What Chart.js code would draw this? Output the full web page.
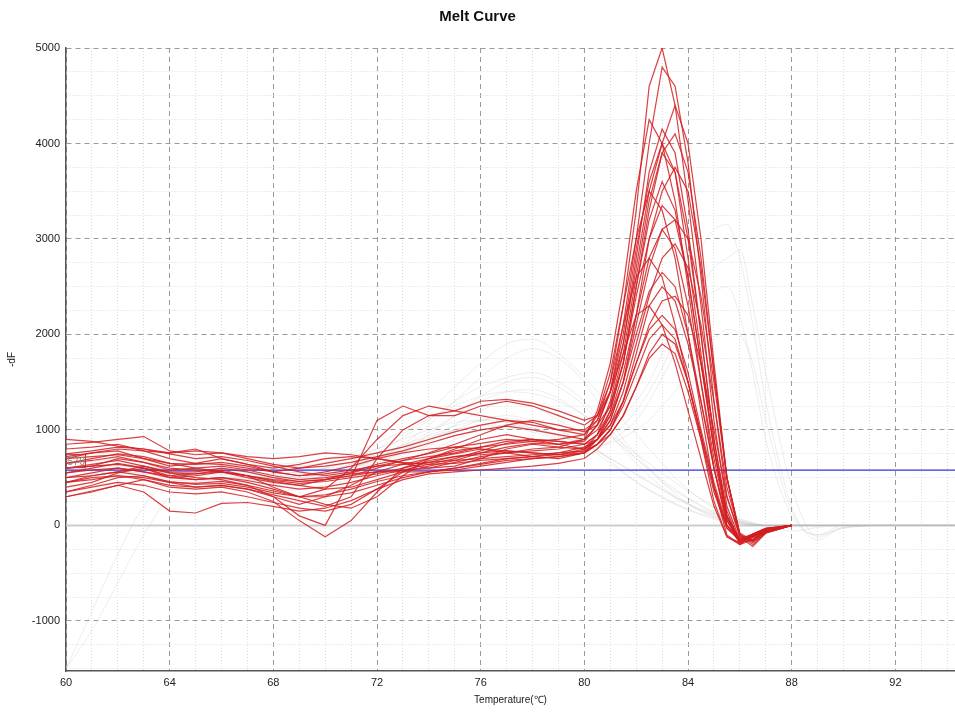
<!DOCTYPE html>
<html>
<head>
<meta charset="utf-8">
<script src="https://cdn.jsdelivr.net/npm/chart.js@4.4.1/dist/chart.umd.min.js"></script>
<style>
  html, body { margin: 0; padding: 0; background: #fff; }
  #wrap { width: 955px; height: 713px; }
</style>
</head>
<body>
<div id="wrap"><canvas id="melt" width="955" height="713"></canvas></div>
<script>
// temperature steps (°C) shared by every well
const temps = [60,61,62,63,64,65,66,67,68,69,70,71,72,73,74,75,76,77,78,79,80,
  80.5,81,81.5,82,82.5,83,83.5,84,84.5,85,85.5,86,86.5,87,88,89,90,92,94.3];

const threshold = 579;
const xTickLabels = [60,64,68,72,76,80,84,88,92];
const yTickLabels = [-1000,0,1000,2000,3000,4000,5000];

// wells with product (red), read up to 88 °C
const r01 = [720,760,800,780,700,650,640,600,560,600,650,700,760,820,900,980,1050,1100,1080,1000,950, 1100,1500,2300,3300,4600,5000,4400,3400,2300,1100,200,-150,-120,-50, 0];
const r02 = [900,880,830,800,750,700,720,680,620,560,520,560,640,700,750,820,860,900,880,850,880, 1050,1400,2100,3000,4000,4800,4600,3800,2600,1300,300,-100,-150,-60, 0];
const r03 = [600,620,700,660,580,600,560,520,400,300,380,600,900,1150,1250,1200,1150,1100,1050,1000,1000, 1100,1400,1900,2700,3500,4000,4400,4000,3000,1700,500,-100,-200,-80, 0];
const r04 = [450,520,560,620,550,500,480,420,300,220,300,420,560,640,700,800,900,950,900,850,900, 1200,1700,2500,3500,4250,4000,3400,2500,1500,600,0,-180,-100,-40, 0];
const r05 = [800,820,850,780,760,800,700,640,600,640,700,720,700,650,600,620,700,800,850,820,800, 950,1300,1900,2800,3700,4150,3900,3100,2000,900,100,-200,-150,-60, 0];
const r06 = [550,600,650,600,500,520,560,500,450,420,480,550,620,680,720,760,820,880,900,880,850, 950,1200,1700,2500,3300,3900,4100,3700,2800,1600,500,-120,-220,-80, 0];
const r07 = [350,420,500,520,450,400,420,380,300,100,0,500,1100,1250,1150,1150,1250,1300,1250,1150,1050, 1150,1400,2000,2900,3600,4000,3700,2800,1800,800,50,-180,-120,-40, 0];
const r08 = [650,700,750,720,650,600,620,580,520,480,500,540,560,580,600,660,720,760,800,820,900, 1000,1250,1800,2600,3400,3900,3700,3000,2000,900,150,-180,-150,-50, 0];
const r09 = [500,550,600,560,520,540,580,520,460,420,380,400,480,560,620,680,760,820,860,850,800, 900,1100,1500,2200,3000,3500,3750,3500,2700,1600,500,-100,-180,-80, 0];
const r10 = [700,760,780,700,620,650,700,640,560,520,560,620,700,760,800,820,800,760,720,700,760, 900,1200,1700,2500,3200,3600,3300,2600,1700,800,100,-150,-120,-40, 0];
const r11 = [400,450,550,600,520,480,500,450,380,300,220,180,300,520,700,780,820,850,880,900,950, 1150,1600,2300,3000,3500,3300,2800,2000,1200,400,-100,-200,-100,-40, 0];
const r12 = [600,640,680,620,560,560,600,560,500,460,480,520,600,680,760,850,950,1050,1100,1050,980, 1050,1250,1700,2400,3000,3350,3200,2600,1700,800,100,-150,-130,-50, 0];
const r13 = [300,350,420,480,400,380,400,350,250,50,-120,50,350,600,700,750,800,780,760,740,800, 900,1100,1500,2100,2700,3100,3200,3000,2400,1500,500,-80,-160,-70, 0];
const r14 = [500,520,560,520,460,430,440,400,340,300,320,380,460,520,560,600,650,700,720,740,780, 900,1150,1600,2200,2800,3100,2900,2300,1500,700,80,-160,-120,-50, 0];
const r15 = [750,780,820,800,760,780,760,720,700,720,760,740,700,660,640,650,680,700,720,760,820, 900,1050,1400,1900,2400,2800,2950,2700,2100,1300,400,-100,-170,-70, 0];
const r16 = [450,500,520,480,420,400,420,380,320,260,200,300,700,1000,1150,1200,1300,1320,1280,1200,1100, 1150,1500,2100,2600,2800,2600,2100,1500,900,250,-120,-200,-100,-40, 0];
const r17 = [550,580,600,560,500,480,500,470,420,380,400,450,520,580,640,700,780,860,900,880,850, 950,1150,1500,2000,2450,2650,2500,2000,1300,600,50,-150,-110,-40, 0];
const r18 = [650,680,720,660,600,580,560,520,480,460,480,520,560,560,560,580,620,660,700,720,760, 850,1000,1300,1800,2300,2500,2350,1900,1300,600,50,-150,-100,-40, 0];
const r19 = [350,400,450,420,350,330,350,300,240,180,150,220,380,560,680,720,740,760,780,800,850, 900,1050,1300,1700,2100,2350,2400,2200,1700,1000,300,-120,-160,-60, 0];
const r20 = [850,870,900,930,780,740,760,700,640,600,620,660,720,780,860,940,1000,1040,1000,950,900, 1050,1400,1800,2200,2300,2100,1700,1200,700,200,-120,-180,-90,-30, 0];
const r21 = [600,620,640,600,550,540,560,520,470,440,460,500,540,600,660,720,760,780,760,740,760, 850,1000,1300,1700,2050,2200,2050,1600,1000,450,0,-150,-100,-40, 0];
const r22 = [450,480,520,500,450,440,460,420,360,300,300,340,420,500,560,600,640,680,700,720,760, 850,1000,1250,1600,1950,2100,1950,1500,950,400,-30,-160,-100,-40, 0];
const r23 = [700,720,740,700,650,640,660,620,560,520,540,580,620,640,660,680,700,720,740,760,780, 850,950,1150,1450,1800,2000,1900,1500,950,400,0,-140,-90,-30, 0];
const r24 = [300,360,420,350,150,130,230,240,200,150,180,260,380,480,540,560,580,600,620,650,700, 800,950,1150,1450,1750,1900,1800,1400,900,350,-30,-150,-90,-30, 0];

// other wells (faint grey), full range
const g01 = [500,520,560,540,500,480,500,480,460,480,520,600,700,850,1050,1300,1550,1750,1850,1750,1500, 1300,1100,900,750,600,450,330,230,150,90,50,20,0,0, 0,0,0,0,0];
const g02 = [550,580,600,580,540,520,540,520,500,520,560,640,760,920,1100,1300,1450,1550,1600,1500,1300, 1150,1000,850,700,580,460,360,280,200,130,80,40,10,0, 0,0,0,0,0];
const g03 = [450,480,520,500,460,440,460,440,420,440,480,540,640,780,950,1150,1350,1500,1550,1450,1250, 1100,950,800,650,520,400,300,220,150,100,60,30,10,0, 0,0,0,0,0];
const g04 = [600,620,640,620,580,560,580,560,540,560,600,680,800,960,1120,1250,1350,1400,1380,1300,1150, 1050,950,850,750,650,550,450,360,280,200,130,70,30,0, 0,0,0,0,0];
const g05 = [550,580,600,580,540,520,540,520,500,520,560,620,700,800,900,1000,1050,1080,1050,1000,950, 980,1050,1150,1300,1500,1800,2200,2600,2900,3100,3150,2800,2100,1300, 200,-150,-20,0,0];
const g06 = [600,620,640,620,580,560,580,560,540,560,600,660,740,840,940,1040,1100,1120,1080,1000,900, 900,950,1050,1200,1400,1650,1950,2250,2500,2700,2800,2880,2300,1600, 400,-120,-20,0,0];
const g07 = [500,520,540,520,480,460,480,460,440,460,500,560,640,740,840,940,1000,1020,980,900,820, 820,880,980,1100,1300,1550,1800,2100,2350,2450,2500,2200,1600,900, 100,-100,0,0,0];
const g08 = [-1500,-900,-300,200,450,480,500,480,460,480,520,580,660,760,880,1000,1100,1150,1100,1000,850, 750,650,550,450,370,300,230,170,120,80,40,20,0,0, 0,0,0,0,0];
const g09 = [-1500,-1100,-600,-100,300,450,500,500,480,500,540,600,680,780,900,1050,1200,1300,1250,1100,950, 800,680,560,460,370,290,220,160,110,70,40,20,0,0, 0,0,0,0,0];
const g10 = [650,670,700,680,640,620,640,620,600,620,660,720,800,900,1000,1080,1100,1080,1020,940,850, 780,700,620,540,460,380,300,230,170,120,80,40,10,0, 0,0,0,0,0];
const g11 = [400,420,450,430,400,380,400,380,360,380,420,480,560,660,780,900,1000,1050,1020,950,850, 780,700,620,530,450,370,290,220,160,110,70,35,10,0, 0,0,0,0,0];
const g12 = [700,720,740,720,680,660,680,660,640,660,700,760,860,1000,1200,1450,1700,1900,1950,1800,1550, 1400,1250,1100,950,800,650,500,380,270,180,110,60,20,0, 0,0,0,0,0];
const g13 = [520,540,560,550,520,500,520,500,480,500,540,600,700,830,980,1150,1300,1400,1420,1330,1150, 1050,930,820,700,590,480,380,290,210,140,90,50,20,0, -60,-20,0,0,0];
const g14 = [580,600,620,600,560,540,560,540,520,540,580,640,720,820,920,1000,1040,1050,1000,930,860, 840,860,920,1000,1100,1250,1400,1600,1800,1950,2050,2000,1700,1100, 150,-100,-30,0,0];
const ntc = [0,0,0,0,0,0,0,0,0,0,0,0,0,0,0,0,0,0,0,0,0, 0,0,0,0,0,0,0,0,0,0,0,0,0,0, 0,0,0,0,0];

const redCurves = [r01,r02,r03,r04,r05,r06,r07,r08,r09,r10,r11,r12,r13,r14,r15,r16,r17,r18,r19,r20,r21,r22,r23,r24];
const greyCurves = [g01,g02,g03,g04,g05,g06,g07,g08,g09,g10,g11,g12,g13,g14];

const xMin = 60, xMax = 94.3, yMin = -1525, yMax = 5000;
const xMinor = 1, yMinor = 250;

function toPoints(vals) {
  return vals.map((v, i) => ({ x: temps[i], y: v }));
}

const datasets = [];
redCurves.forEach((c) => {
  datasets.push({ data: toPoints(c), borderColor: 'rgba(210,30,34,0.85)', borderWidth: 1.2, order: 0 });
});
datasets.push({
  data: [{ x: xMin, y: threshold }, { x: xMax, y: threshold }],
  borderColor: '#3030e0', borderWidth: 1.3, order: 1
});
greyCurves.forEach((c) => {
  datasets.push({ data: toPoints(c), borderColor: 'rgba(185,185,185,0.25)', borderWidth: 1, order: 2,
    cubicInterpolationMode: 'monotone' });
});
datasets.push({ data: toPoints(ntc), borderColor: 'rgba(205,205,205,1)', borderWidth: 2, order: 3 });

const fontFam = '"Liberation Sans", Arial, sans-serif';

// minor ticks every step between the axis limits
function stepTicks(scale, step) {
  const out = [];
  for (let v = Math.ceil(scale.min / step) * step; v <= scale.max + 1e-9; v += step) {
    out.push({ value: v });
  }
  scale.ticks = out;
}

function isMajor(ctx, step) {
  return ctx.tick && Math.abs(ctx.tick.value % step) < 1e-6;
}
function gridColor(ctx, step) {
  if (!ctx.tick) return '#999';
  return isMajor(ctx, step) ? '#9a9a9a' : '#dcdcdc';
}
function gridDash(ctx, step) {
  if (!ctx.tick) return [];
  return isMajor(ctx, step) ? [5, 4] : [1, 2];
}

const thresholdLabel = {
  id: 'thresholdLabel',
  afterDatasetsDraw(chart) {
    const ctx = chart.ctx;
    const y = chart.scales.y.getPixelForValue(threshold);
    const x = chart.chartArea.left;
    ctx.save();
    ctx.strokeStyle = '#c03a3a';
    ctx.lineWidth = 1;
    ctx.strokeRect(x + 0.5, y - 15.5, 19, 13);
    ctx.fillStyle = '#888';
    ctx.font = '11px ' + fontFam;
    ctx.textBaseline = 'middle';
    ctx.fillText(String(threshold), x + 1, y - 8.5);
    ctx.restore();
  }
};

new Chart(document.getElementById('melt'), {
  type: 'line',
  data: { datasets: datasets },
  plugins: [thresholdLabel],
  options: {
    responsive: false,
    animation: false,
    events: [],
    elements: { point: { radius: 0 }, line: { tension: 0, fill: false } },
    layout: { padding: { left: 0, right: 0, top: 0, bottom: 0 } },
    plugins: {
      legend: { display: false },
      tooltip: { enabled: false },
      title: {
        display: true,
        text: 'Melt Curve',
        color: '#111',
        font: { family: fontFam, size: 15, weight: 'bold' },
        padding: { top: 8, bottom: 22 }
      }
    },
    scales: {
      x: {
        type: 'linear',
        min: xMin,
        max: xMax,
        afterBuildTicks(scale) { stepTicks(scale, xMinor); },
        afterFit(scale) { scale.height = 42; },
        ticks: {
          autoSkip: false,
          maxRotation: 0,
          padding: 5,
          color: '#222',
          font: { family: fontFam, size: 11 },
          callback: (v) => xTickLabels.includes(v) ? String(v) : ''
        },
        grid: { drawTicks: false, color: (ctx) => gridColor(ctx, 4), lineWidth: 1 },
        border: { color: '#555', width: 1.5, dash: (ctx) => gridDash(ctx, 4) },
        title: {
          display: true,
          text: 'Temperature(℃)',
          color: '#222',
          font: { family: fontFam, size: 10 },
          padding: { top: 0, bottom: 7 }
        }
      },
      y: {
        min: yMin,
        max: yMax,
        afterBuildTicks(scale) { stepTicks(scale, yMinor); },
        afterFit(scale) { scale.width = 66; },
        ticks: {
          autoSkip: false,
          padding: 6,
          color: '#222',
          font: { family: fontFam, size: 11 },
          callback: (v) => yTickLabels.includes(v) ? String(v) : ''
        },
        grid: { drawTicks: false, color: (ctx) => gridColor(ctx, 1000), lineWidth: 1 },
        border: { color: '#555', width: 1.5, dash: (ctx) => gridDash(ctx, 1000) },
        title: {
          display: true,
          text: '-dF',
          color: '#222',
          font: { family: fontFam, size: 10 },
          padding: { top: 6, bottom: 0 }
        }
      }
    }
  }
});
</script>
</body>
</html>
